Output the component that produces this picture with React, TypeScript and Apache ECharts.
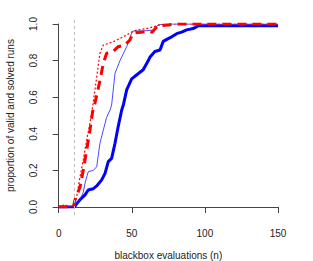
import React, { useEffect, useRef } from "react";
import * as echarts from "echarts";

const xTicks = [0, 50, 100, 150];
const yTicks = [0, 0.2, 0.4, 0.6, 0.8, 1.0];
const budgetMarker = 10;

const blueThick: [number, number][] = [
  [0, 0], [10, 0], [11, 0.003], [14.6, 0.04], [18, 0.066], [20.2, 0.093], [23.7, 0.1],
  [26, 0.115], [29.4, 0.148], [31.7, 0.184], [33.9, 0.248], [36.2, 0.266], [38.5, 0.348],
  [40.7, 0.44], [43.1, 0.53], [44.2, 0.557], [46.5, 0.64], [49.9, 0.7], [53, 0.72],
  [57.8, 0.75], [61.3, 0.8], [62.5, 0.82], [65.8, 0.85], [69.3, 0.858], [71.5, 0.905],
  [74.9, 0.92], [77.3, 0.93], [80.7, 0.947], [84.1, 0.956], [87.5, 0.968], [92, 0.975],
  [95.4, 0.99], [150, 0.99],
];

const blueThin: [number, number][] = [
  [0, 0], [10, 0], [11, 0.003], [14.6, 0.04], [16.8, 0.08], [18, 0.13], [20.2, 0.193],
  [23.7, 0.2], [26, 0.22], [28.2, 0.348], [30.5, 0.42], [32.8, 0.49], [35.1, 0.53],
  [36.2, 0.557], [38.5, 0.73], [41.9, 0.8], [46.5, 0.876], [49.9, 0.95], [51, 0.962],
  [57.8, 0.962], [64.7, 0.967], [68.1, 0.995], [73.8, 1], [150, 1],
];

const redDashed: [number, number][] = [
  [0, 0], [10, 0], [11.1, 0.038], [14.6, 0.11], [16.8, 0.2], [19.1, 0.31], [21.4, 0.42],
  [23.7, 0.548], [24.8, 0.567], [28.2, 0.69], [30.5, 0.785], [32.8, 0.84], [37.3, 0.85],
  [40.7, 0.876], [45.3, 0.885], [48.7, 0.913], [51, 0.95], [56, 0.955], [62, 0.96],
  [64, 0.955], [66, 0.975], [68, 0.99], [75, 0.995], [80, 1], [150, 1],
];

const redDotted: [number, number][] = [
  [0, 0], [2, 0], [3, 0.01], [5, 0.01], [6, 0], [10, 0], [11, 0.02], [12.3, 0.056],
  [14.6, 0.165], [16.8, 0.257], [19.1, 0.366], [21.4, 0.457], [23.7, 0.575], [26, 0.71],
  [28.2, 0.84], [30.5, 0.885], [37.3, 0.903], [44.2, 0.93], [49.9, 0.956], [53.3, 0.967],
  [60.2, 0.975], [65, 0.985], [69, 0.995], [75, 1], [150, 1],
];

const FONT = "'Liberation Sans', Arial, Helvetica, sans-serif";
const AXIS_COLOR = "#444";
const TEXT_COLOR = "#222";

export default function App() {
  const ref = useRef<HTMLDivElement>(null);
  useEffect(() => {
    if (!ref.current) return;
    const chart = echarts.init(ref.current, undefined, { renderer: "svg" });
    chart.setOption({
      animation: false,
      backgroundColor: "#fff",
      grid: [
        { left: 58.7, right: 35, top: 24, bottom: 54, containLabel: false, outerBoundsMode: "none" },
        { left: 51, right: 26, top: 17, bottom: 46, containLabel: false, outerBoundsMode: "none" },
      ],
      xAxis: [
        {
          gridIndex: 0,
          type: "value",
          min: xTicks[0],
          max: xTicks[xTicks.length - 1],
          interval: 50,
          offset: 8,
          name: "blackbox evaluations (n)",
          nameLocation: "middle",
          nameGap: 35,
          nameTextStyle: { fontFamily: FONT, fontSize: 10, color: TEXT_COLOR },
          axisLine: { show: true, lineStyle: { color: AXIS_COLOR, width: 1 } },
          axisTick: { show: true, length: 6, lineStyle: { color: AXIS_COLOR } },
          axisLabel: { fontFamily: FONT, fontSize: 10, color: TEXT_COLOR, margin: 13 },
          splitLine: { show: false },
        },
        {
          gridIndex: 1,
          type: "value",
          min: -6,
          max: 156,
          show: false,
        },
      ],
      yAxis: [
        {
          gridIndex: 0,
          type: "value",
          min: yTicks[0],
          max: yTicks[yTicks.length - 1],
          interval: 0.2,
          offset: 7.7,
          name: "proportion of valid and solved runs",
          nameLocation: "middle",
          nameGap: 36,
          nameTextStyle: { fontFamily: FONT, fontSize: 10, color: TEXT_COLOR },
          axisLine: { show: true, lineStyle: { color: AXIS_COLOR, width: 1 } },
          axisTick: { show: true, length: 6, lineStyle: { color: AXIS_COLOR } },
          axisLabel: {
            fontFamily: FONT,
            fontSize: 10,
            color: TEXT_COLOR,
            margin: 13,
            rotate: 90,
            formatter: (v: number) => v.toFixed(1),
          },
          splitLine: { show: false },
        },
        {
          gridIndex: 1,
          type: "value",
          min: -0.04,
          max: 1.04,
          show: false,
        },
      ],
      series: [
        {
          type: "line",
          xAxisIndex: 1,
          yAxisIndex: 1,
          data: [[budgetMarker, 0]],
          symbol: "none",
          lineStyle: { opacity: 0 },
          silent: true,
          markLine: {
            silent: true,
            symbol: ["none", "none"],
            label: { show: false },
            lineStyle: { color: "#bbb", type: [3, 3], width: 1 },
            data: [{ xAxis: budgetMarker }],
          },
        },
        {
          type: "line",
          data: blueThick,
          symbol: "none",
          lineStyle: { color: "#0000ff", width: 3 },
        },
        {
          type: "line",
          data: blueThin,
          symbol: "none",
          lineStyle: { color: "#2a2aff", width: 1, opacity: 0.85 },
        },
        {
          type: "line",
          data: redDotted,
          symbol: "none",
          lineStyle: { color: "#ff0000", width: 1.2, type: [2, 2] },
        },
        {
          type: "line",
          data: redDashed,
          symbol: "none",
          lineStyle: { color: "#ff0000", width: 3, type: [9, 6] },
        },
      ],
    });
    return () => chart.dispose();
  }, []);
  return (
    <div
      ref={ref}
      style={{ position: "fixed", left: 0, top: 0, width: 313, height: 261 }}
    />
  );
}
